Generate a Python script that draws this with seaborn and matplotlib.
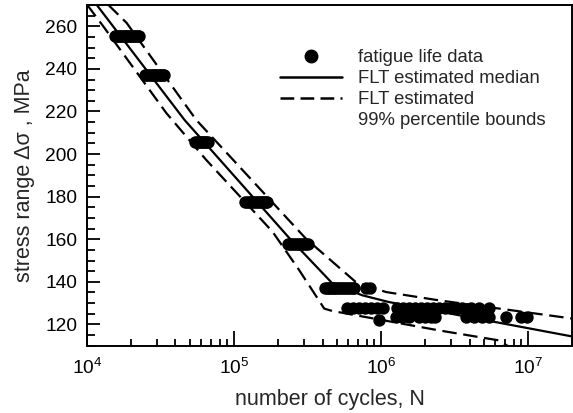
import numpy as np
import pandas as pd
import matplotlib
matplotlib.use("Agg")
import matplotlib.pyplot as plt
import seaborn as sns
from matplotlib.lines import Line2D
from matplotlib.ticker import MultipleLocator, LogLocator, NullFormatter

# ---------------- data ----------------
fail_N_255 = [1.54e4, 1.58e4, 1.62e4, 1.66e4, 1.70e4, 1.74e4, 1.78e4, 1.82e4, 1.86e4,
              1.90e4, 1.95e4, 2.00e4, 2.05e4, 2.10e4, 2.15e4, 2.21e4, 2.27e4]
fail_N_237 = [2.47e4, 2.53e4, 2.60e4, 2.67e4, 2.75e4, 2.82e4, 2.90e4, 2.97e4, 3.05e4,
              3.12e4, 3.20e4, 3.27e4, 3.35e4]
fail_N_206 = [5.45e4, 5.60e4, 5.75e4, 5.90e4, 6.05e4, 6.20e4, 6.35e4, 6.50e4, 6.65e4]
fail_N_177 = [1.19e5, 1.23e5, 1.27e5, 1.31e5, 1.35e5, 1.39e5, 1.43e5, 1.47e5, 1.52e5,
              1.56e5, 1.60e5, 1.64e5, 1.67e5]
fail_N_157 = [2.32e5, 2.40e5, 2.47e5, 2.55e5, 2.62e5, 2.71e5, 2.80e5, 2.89e5, 2.98e5,
              3.08e5, 3.17e5]
fail_N_137 = [4.17e5, 4.28e5, 4.40e5, 4.52e5, 4.65e5, 4.78e5, 4.90e5, 5.05e5, 5.20e5,
              5.35e5, 5.50e5, 5.68e5, 5.85e5, 6.02e5, 6.20e5, 6.40e5, 6.60e5, 7.90e5, 8.40e5]
stress_levels = [255.3, 237.2, 205.8, 177.6, 157.6, 137.1]

runout_upper_N = [5.88e5, 6.46e5, 7.09e5, 7.79e5, 8.55e5, 9.39e5, 1.03e6, 1.28e6, 1.41e6,
                  1.55e6, 1.70e6, 1.87e6, 2.05e6, 2.25e6, 2.47e6, 2.72e6, 2.98e6, 3.28e6,
                  3.54e6, 4.07e6, 4.62e6, 5.40e6]
runout_upper_S = 127.5
runout_lower_N = [1.26e6, 1.39e6, 1.55e6, 1.81e6, 1.99e6, 2.18e6, 2.32e6, 3.77e6, 4.27e6,
                  4.84e6, 5.40e6, 7.03e6, 8.89e6, 9.77e6]
runout_lower_S = 123.5
runout_low_N = [9.70e5]
runout_low_S = [122.0]

median_N = [1.16e4, 1.39e4, 4.61e4, 2.38e5, 4.66e5, 7.43e5, 1.13e6, 1.97e7]
median_S = [270.2, 263.1, 216.0, 160.5, 139.3, 133.7, 130.5, 114.4]

upper_N = [1.39e4, 1.86e4, 5.54e4, 3.08e5, 6.73e5, 1.08e6, 2.47e6, 1.97e7]
upper_S = [270.2, 261.6, 216.0, 160.3, 139.9, 135.2, 131.3, 122.8]

lower_N = [1.00e4, 1.29e4, 3.47e4, 6.48e4, 1.83e5, 2.78e5, 4.11e5, 4.66e5, 2.47e6, 6.31e6, 7.38e6]
lower_S = [270.2, 260.0, 219.2, 197.2, 163.5, 145.4, 127.4, 126.3, 117.2, 112.5, 109.6]

legend_labels = ["fatigue life data", "FLT estimated median", "FLT estimated",
                 "99% percentile bounds"]

# ---------------- build table ----------------
groups = [fail_N_255, fail_N_237, fail_N_206, fail_N_177, fail_N_157, fail_N_137]
pts_N, pts_S = [], []
for n_list, s in zip(groups, stress_levels):
    pts_N += n_list
    pts_S += [s] * len(n_list)
pts_N += runout_upper_N
pts_S += [runout_upper_S] * len(runout_upper_N)
pts_N += runout_lower_N
pts_S += [runout_lower_S] * len(runout_lower_N)
pts_N += runout_low_N
pts_S += runout_low_S
df = pd.DataFrame({"N": pts_N, "S": pts_S})

# ---------------- style ----------------
sns.set_style("ticks")
plt.rcParams["font.family"] = ["Liberation Sans", "DejaVu Sans"]
plt.rcParams["axes.linewidth"] = 1.4

fig = plt.figure(figsize=(5.73, 4.13), dpi=100)
ax = fig.add_axes([0.1518, 0.1630, 0.8470, 0.8249])

dash = (0, (6.5, 3.0))
sns.scatterplot(data=df, x="N", y="S", ax=ax, color="black", s=80, linewidth=0,
                legend=False, zorder=3)
sns.lineplot(x=median_N, y=median_S, ax=ax, sort=False, estimator=None,
             color="black", linewidth=1.6)
sns.lineplot(x=upper_N, y=upper_S, ax=ax, sort=False, estimator=None,
             color="black", linewidth=1.6, linestyle=dash)
sns.lineplot(x=lower_N, y=lower_S, ax=ax, sort=False, estimator=None,
             color="black", linewidth=1.6, linestyle=dash)

ax.set_xscale("log")
ax.set_xlim(1e4, 2e7)
ax.set_ylim(110, 270)
ax.yaxis.set_major_locator(MultipleLocator(20))
ax.yaxis.set_minor_locator(MultipleLocator(5))
ax.xaxis.set_major_locator(LogLocator(base=10, numticks=10))
ax.xaxis.set_minor_locator(LogLocator(base=10, subs=np.arange(2, 10), numticks=20))
ax.xaxis.set_minor_formatter(NullFormatter())

ax.tick_params(axis="both", which="both", direction="in", top=False, right=False,
               width=1.3, labelsize=13.8, colors="black")
ax.tick_params(axis="y", which="major", length=9.5, pad=7)
ax.tick_params(axis="y", which="minor", length=6)
ax.tick_params(axis="x", which="major", length=10.5, pad=9)
ax.tick_params(axis="x", which="minor", length=5)

for sp in ax.spines.values():
    sp.set_visible(True)
    sp.set_linewidth(1.4)
    sp.set_color("black")

ax.set_xlabel("number of cycles, N", fontsize=15.5, labelpad=8)
ax.set_ylabel("stress range Δσ , MPa", fontsize=15.5, labelpad=7)

handles = [
    Line2D([], [], marker="o", color="black", linestyle="none", markersize=9),
    Line2D([], [], color="black", linewidth=1.8),
    Line2D([], [], color="black", linewidth=1.8, linestyle=(0, (5.5, 2.5))),
    Line2D([], [], color="none", linewidth=0),
]
ax.legend(handles, legend_labels, loc="upper left", bbox_to_anchor=(0.397, 0.870),
          frameon=False, fontsize=13.3, handlelength=3.4, handletextpad=0.85,
          labelspacing=0.22, borderpad=0, borderaxespad=0)

fig.savefig("out.png", dpi=100)
